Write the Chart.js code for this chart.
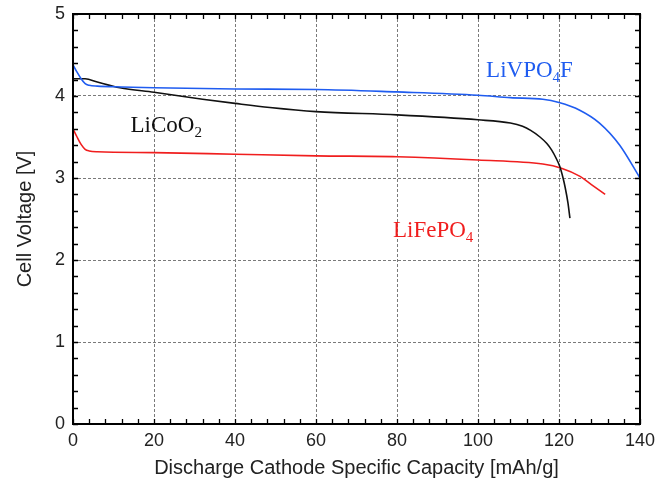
<!DOCTYPE html>
<html>
<head>
<meta charset="utf-8">
<script src="https://cdn.jsdelivr.net/npm/chart.js@4.4.1/dist/chart.umd.min.js"></script>
<style>
  html, body { margin: 0; padding: 0; background: #fff; }
  #wrap { width: 670px; height: 492px; }
</style>
</head>
<body>
<div id="wrap"><canvas id="chart" width="670" height="492"></canvas></div>
<script>
// LiVPO4F discharge curve (blue)
const vpoX = [0, 1, 2, 3, 4, 6, 12, 20, 40, 60, 80, 100, 108, 116, 120, 125, 130, 135, 140];
const vpoY = [4.38, 4.29, 4.21, 4.15, 4.13, 4.12, 4.11, 4.10, 4.085, 4.08, 4.05, 4.01, 3.98, 3.96, 3.92, 3.83, 3.67, 3.40, 3.00];

// LiCoO2 discharge curve (black)
const cooX = [0, 3, 6, 11.6, 20, 32, 40, 48.6, 60, 80, 100, 108, 111, 113, 115.3, 117, 118.2, 119.2, 120.2, 121, 121.5, 122.2, 122.7];
const cooY = [4.21, 4.21, 4.17, 4.10, 4.045, 3.96, 3.91, 3.86, 3.81, 3.77, 3.71, 3.67, 3.63, 3.58, 3.50, 3.42, 3.34, 3.25, 3.14, 3.00, 2.89, 2.70, 2.51];

// LiFePO4 discharge curve (red)
const fepX = [0, 1, 2, 3, 4, 6, 20, 40, 60, 80, 100, 116, 120.6, 125.2, 128, 131.4];
const fepY = [3.60, 3.50, 3.41, 3.35, 3.33, 3.32, 3.31, 3.29, 3.27, 3.26, 3.22, 3.17, 3.12, 3.02, 2.92, 2.80];

// axis ticks
const xTicks = [0, 20, 40, 60, 80, 100, 120, 140];
const yTicks = [0, 1, 2, 3, 4, 5];

// curve labels, '_' marks a subscript character
const labelNames = ['LiVPO_4F', 'LiCoO_2', 'LiFePO_4'];
const labelX = [102, 14.2, 79];
const labelY = [4.235, 3.557, 2.277];
const labelColors = ['#1f5cf0', '#111111', '#f01e1e'];

const toPoints = (xs, ys) => xs.map((x, i) => ({ x: x, y: ys[i] }));

// frame with inward ticks on all four sides
const framePlugin = {
  id: 'frame',
  afterDraw(chart) {
    const { ctx, chartArea: a, scales: { x, y } } = chart;
    ctx.save();
    ctx.strokeStyle = '#000';
    ctx.lineWidth = 1.3;
    ctx.beginPath();
    for (let v = 0; v <= 140; v += 4) {
      const px = Math.round(x.getPixelForValue(v)) + 0.5;
      ctx.moveTo(px, a.bottom); ctx.lineTo(px, a.bottom - 5);
      ctx.moveTo(px, a.top); ctx.lineTo(px, a.top + 5);
    }
    for (let i = 0; i <= 25; i++) {
      const py = Math.round(y.getPixelForValue(i * 0.2)) + 0.5;
      ctx.moveTo(a.left, py); ctx.lineTo(a.left + 5, py);
      ctx.moveTo(a.right, py); ctx.lineTo(a.right - 5, py);
    }
    ctx.stroke();
    ctx.lineWidth = 2;
    ctx.strokeRect(a.left, a.top, a.right - a.left, a.bottom - a.top);
    ctx.restore();
  }
};

// curve name labels with subscripts
const labelPlugin = {
  id: 'curveLabels',
  afterDatasetsDraw(chart) {
    const { ctx, scales: { x, y } } = chart;
    ctx.save();
    ctx.textBaseline = 'alphabetic';
    ctx.textAlign = 'left';
    labelNames.forEach((name, i) => {
      let px = x.getPixelForValue(labelX[i]);
      const py = y.getPixelForValue(labelY[i]);
      ctx.fillStyle = labelColors[i];
      for (let k = 0; k < name.length; k++) {
        let ch = name[k];
        let sub = false;
        if (ch === '_') { k++; ch = name[k]; sub = true; }
        ctx.font = sub ? '15px "Liberation Serif"' : '23px "Liberation Serif"';
        ctx.fillText(ch, px, sub ? py + 5 : py);
        px += ctx.measureText(ch).width;
      }
    });
    ctx.restore();
  }
};

const lineStyle = (color) => ({
  borderColor: color,
  backgroundColor: color,
  borderWidth: 1.6,
  pointRadius: 0,
  fill: false,
  cubicInterpolationMode: 'monotone'
});

new Chart(document.getElementById('chart'), {
  type: 'line',
  data: {
    datasets: [
      Object.assign({ label: 'LiVPO4F', data: toPoints(vpoX, vpoY) }, lineStyle('#1f5cf0')),
      Object.assign({ label: 'LiCoO2', data: toPoints(cooX, cooY) }, lineStyle('#111111')),
      Object.assign({ label: 'LiFePO4', data: toPoints(fepX, fepY) }, lineStyle('#f01e1e'))
    ]
  },
  options: {
    responsive: false,
    animation: false,
    devicePixelRatio: 1,
    layout: { padding: { left: 0, right: 30, top: 14, bottom: 0 } },
    plugins: {
      legend: { display: false },
      tooltip: { enabled: false }
    },
    scales: {
      x: {
        type: 'linear',
        min: 0,
        max: 140,
        afterBuildTicks: (s) => { s.ticks = xTicks.map(v => ({ value: v })); },
        afterFit: (s) => { s.height = 68; s.paddingLeft = 0; s.paddingRight = 0; },
        ticks: {
          font: { family: '"Liberation Sans"', size: 18 },
          color: '#222',
          padding: 6,
          maxRotation: 0
        },
        grid: { color: '#7a7a7a', lineWidth: 1, drawTicks: false },
        border: { display: false, dash: [3, 2] },
        title: {
          display: true,
          text: 'Discharge Cathode Specific Capacity [mAh/g]',
          font: { family: '"Liberation Sans"', size: 20 },
          color: '#222',
          padding: { top: 0, bottom: 12 }
        }
      },
      y: {
        type: 'linear',
        min: 0,
        max: 5,
        afterBuildTicks: (s) => { s.ticks = yTicks.map(v => ({ value: v })); },
        afterFit: (s) => { s.width = 73; s.paddingTop = 0; s.paddingBottom = 0; },
        ticks: {
          font: { family: '"Liberation Sans"', size: 18 },
          color: '#222',
          padding: 8
        },
        grid: { color: '#7a7a7a', lineWidth: 1, drawTicks: false },
        border: { display: false, dash: [3, 2] },
        title: {
          display: true,
          text: 'Cell Voltage [V]',
          font: { family: '"Liberation Sans"', size: 20 },
          color: '#222',
          padding: { top: 13, bottom: 0 }
        }
      }
    }
  },
  plugins: [framePlugin, labelPlugin]
});
</script>
</body>
</html>
